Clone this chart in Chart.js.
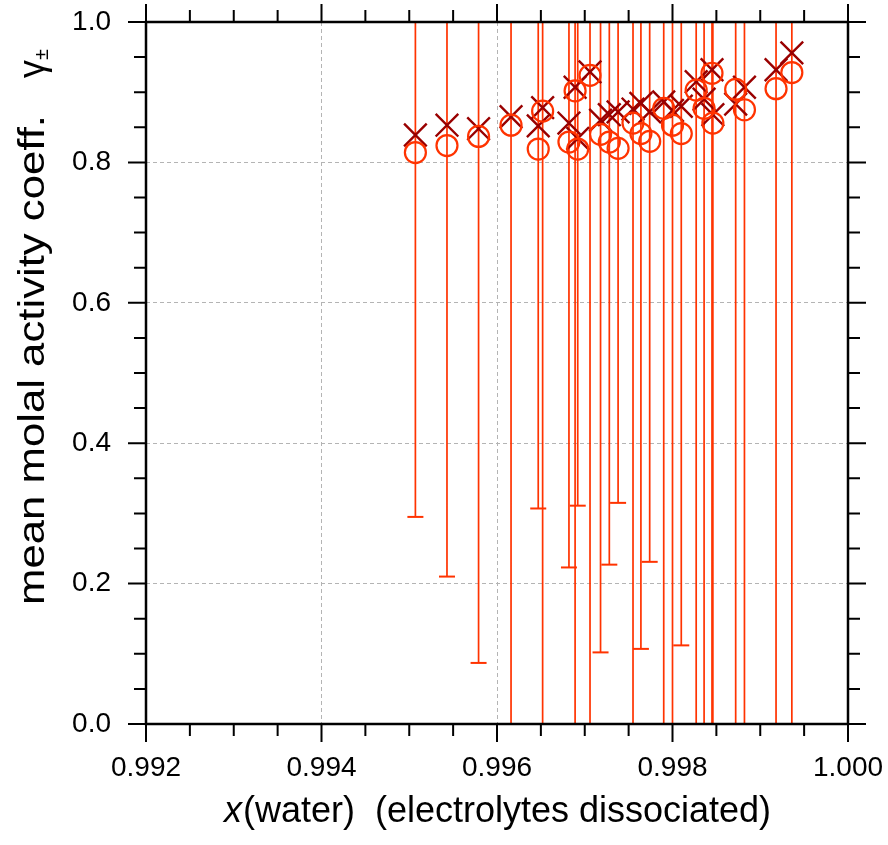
<!DOCTYPE html>
<html>
<head>
<meta charset="utf-8">
<script src="https://cdn.jsdelivr.net/npm/chart.js@4.4.0/dist/chart.umd.min.js"></script>
<style>
  html, body { margin: 0; padding: 0; background: #fff; }
  #wrap { width: 888px; height: 845px; }
</style>
</head>
<body>
<div id="wrap"><canvas id="gammaChart"></canvas></div>
<script>
// x(water) of each point
const xWater = [0.99507, 0.99543, 0.99579, 0.99616, 0.99647, 0.99652, 0.99682, 0.99689, 0.99692,
  0.99706, 0.99718, 0.99728, 0.99738, 0.99755, 0.99764, 0.99774, 0.99790, 0.99800, 0.99810,
  0.99827, 0.99836, 0.99845, 0.99846, 0.99872, 0.99882, 0.99918, 0.99936];
// circles (with error bars)
const gammaCircle = [0.814, 0.824, 0.837, 0.853, 0.819, 0.873, 0.829, 0.902, 0.819,
  0.924, 0.840, 0.829, 0.820, 0.856, 0.841, 0.830, 0.877, 0.853, 0.841,
  0.903, 0.877, 0.927, 0.856, 0.904, 0.875, 0.905, 0.928];
// crosses
const gammaCross = [0.839, 0.853, 0.848, 0.865, 0.852, 0.878, 0.856, 0.907, 0.834,
  0.929, 0.860, 0.868, 0.872, 0.876, 0.884, 0.872, 0.886, 0.874, 0.880,
  0.915, 0.890, 0.932, 0.868, 0.883, 0.907, 0.932, 0.956];
// error bar ends (below 0 / above 1 run off the plot)
const gammaLow = [0.295, 0.210, 0.087, -0.2, 0.307, -0.2, 0.223, -0.2, 0.311,
  -0.2, 0.102, 0.227, 0.315, -0.2, 0.107, 0.231, -0.2, -0.2, 0.112,
  -0.2, -0.2, -0.2, -0.2, -0.2, -0.2, -0.2, -0.2];
const gammaHigh = [1.3, 1.3, 1.3, 1.3, 1.3, 1.3, 1.3, 1.3, 1.3,
  1.3, 1.3, 1.3, 1.3, 1.3, 1.3, 1.3, 1.3, 1.3, 1.3,
  1.3, 1.3, 1.3, 1.3, 1.3, 1.3, 1.3, 1.3];

const xTicks = [0.992, 0.994, 0.996, 0.998, 1.000];
const yTicks = [0.0, 0.2, 0.4, 0.6, 0.8, 1.0];
const xMinorStep = 0.0005;
const yMinorStep = 0.05;

const RED = '#ff3300';
const DARKRED = '#990000';
const FONT = '"Liberation Sans", Arial, sans-serif';

const errPoints = [];
xWater.forEach((x, i) => {
  errPoints.push({ x: x, y: gammaLow[i], cap: gammaLow[i] >= 0 });
  errPoints.push({ x: x, y: gammaHigh[i] });
  errPoints.push({ x: x, y: null });
});

// ticks on all four sides, frame and axis titles
const frameAndTicks = {
  id: 'frameAndTicks',
  afterDraw(chart) {
    const { ctx, chartArea: a, scales: { x, y } } = chart;
    ctx.save();
    ctx.strokeStyle = '#000';
    ctx.lineWidth = 2;
    ctx.beginPath();
    const nx = Math.round((x.max - x.min) / xMinorStep);
    for (let i = 0; i <= nx; i++) {
      const px = x.getPixelForValue(x.min + i * xMinorStep);
      const len = i % 4 === 0 ? 18 : 12;
      ctx.moveTo(px, a.bottom); ctx.lineTo(px, a.bottom + len);
      ctx.moveTo(px, a.top); ctx.lineTo(px, a.top - len);
    }
    const ny = Math.round((y.max - y.min) / yMinorStep);
    for (let i = 0; i <= ny; i++) {
      const py = y.getPixelForValue(y.min + i * yMinorStep);
      const len = i % 4 === 0 ? 18 : 12;
      ctx.moveTo(a.left, py); ctx.lineTo(a.left - len, py);
      ctx.moveTo(a.right, py); ctx.lineTo(a.right + len, py);
    }
    ctx.stroke();
    ctx.lineWidth = 2.5;
    ctx.strokeRect(a.left, a.top, a.right - a.left, a.bottom - a.top);

    // x title
    ctx.fillStyle = '#000';
    ctx.textBaseline = 'middle';
    ctx.textAlign = 'left';
    const t1 = 'x', t2 = '(water)  (electrolytes dissociated)';
    ctx.font = 'italic 36px ' + FONT;
    const w1 = ctx.measureText(t1).width;
    ctx.font = '36px ' + FONT;
    const w2 = ctx.measureText(t2).width;
    const sx = (a.left + a.right) / 2 - (w1 + w2) / 2;
    ctx.font = 'italic 36px ' + FONT;
    ctx.fillText(t1, sx, 812);
    ctx.font = '36px ' + FONT;
    ctx.fillText(t2, sx + w1 + 1, 812);

    // y title (drawn stretched along its baseline like the original)
    ctx.save();
    ctx.translate(34, 605);
    ctx.rotate(-Math.PI / 2);
    const s1 = 'mean molal activity coeff.';
    ctx.font = '36px ' + FONT;
    const v1 = ctx.measureText(s1).width;
    const k = 490 / v1;
    ctx.scale(k, 1);
    ctx.fillText(s1, 0, 0);
    ctx.restore();
    ctx.save();
    ctx.translate(34, 0);
    ctx.rotate(-Math.PI / 2);
    ctx.font = '36px ' + FONT;
    ctx.fillText('\u03b3', -78, 0);
    ctx.font = '20px ' + FONT;
    ctx.fillText('\u00b1', -60, 8);
    ctx.restore();
    ctx.restore();
  }
};

const gammaCtx = document.getElementById('gammaChart').getContext('2d');
const gammaChart = new Chart(gammaCtx, {
  type: 'scatter',
  data: {
    datasets: [
      {
        label: 'circles',
        data: xWater.map((x, i) => ({ x: x, y: gammaCircle[i] })),
        pointStyle: 'circle',
        pointRadius: 10.5,
        pointBorderWidth: 2.2,
        pointBorderColor: RED,
        pointBackgroundColor: 'rgba(0,0,0,0)'
      },
      {
        label: 'crosses',
        data: xWater.map((x, i) => ({ x: x, y: gammaCross[i] })),
        pointStyle: 'crossRot',
        pointRadius: 16,
        pointBorderWidth: 2.4,
        pointBorderColor: DARKRED,
        pointBackgroundColor: DARKRED
      },
      {
        label: 'error bars',
        data: errPoints,
        showLine: true,
        spanGaps: false,
        borderColor: RED,
        borderWidth: 1.7,
        pointStyle: 'line',
        pointRadius: c => (c.raw && c.raw.cap ? 8 : 0),
        pointBorderWidth: 2,
        pointBorderColor: RED
      }
    ]
  },
  options: {
    responsive: true,
    maintainAspectRatio: false,
    animation: false,
    events: [],
    layout: { padding: { top: 22, right: 40, left: 0, bottom: 0 } },
    scales: {
      x: {
        type: 'linear',
        min: 0.992,
        max: 1.0,
        afterFit: s => { s.height = 121; s.paddingLeft = 0; s.paddingRight = 0; },
        afterBuildTicks: s => { s.ticks = xTicks.map(v => ({ value: v })); },
        ticks: {
          color: '#000',
          font: { family: FONT, size: 28 },
          padding: 27,
          maxRotation: 0,
          callback: v => v.toFixed(3)
        },
        grid: { color: '#b4b4b4', lineWidth: 1, drawTicks: false },
        border: { display: false, dash: [4, 3] }
      },
      y: {
        type: 'linear',
        min: 0,
        max: 1.0,
        afterFit: s => { s.width = 146; s.paddingTop = 0; s.paddingBottom = 0; },
        afterBuildTicks: s => { s.ticks = yTicks.map(v => ({ value: v })); },
        ticks: {
          color: '#000',
          font: { family: FONT, size: 28 },
          padding: 35,
          callback: v => v.toFixed(1)
        },
        grid: { color: '#b4b4b4', lineWidth: 1, drawTicks: false },
        border: { display: false, dash: [4, 3] }
      }
    },
    plugins: {
      legend: { display: false },
      tooltip: { enabled: false }
    }
  },
  plugins: [frameAndTicks]
});
</script>
</body>
</html>
